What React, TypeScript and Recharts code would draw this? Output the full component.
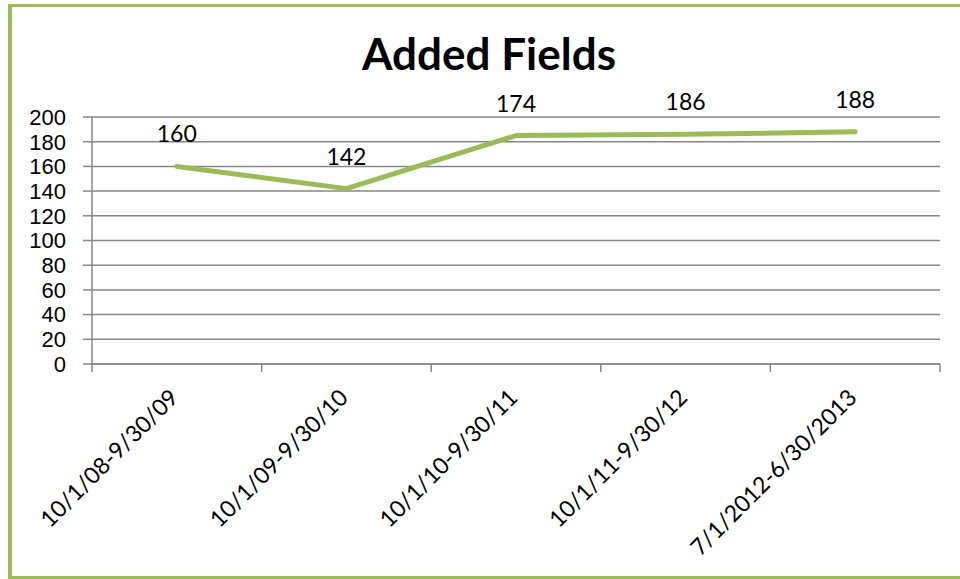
import { LineChart, Line, XAxis, YAxis, CartesianGrid, LabelList } from 'recharts';

const periods = ['10/1/08-9/30/09', '10/1/09-9/30/10', '10/1/10-9/30/11', '10/1/11-9/30/12', '7/1/2012-6/30/2013'];
const addedFields = [160, 142, 185, 186, 188];
const pointLabels = ['160', '142', '174', '186', '188'];
const yTicks = [0, 20, 40, 60, 80, 100, 120, 140, 160, 180, 200];

const GREEN = '#9BBB59';
const GRID = '#878787';

// points sit in the middle of each category band, band edges carry the tick marks
const chartData = periods.map((p, i) => ({
  pos: i + 0.5,
  period: p,
  value: addedFields[i],
  label: pointLabels[i],
}));
const xTicks = [...periods.map((_, i) => i), periods.length, ...periods.map((_, i) => i + 0.5)].sort((a, b) => a - b);

const XTick = (props: any) => {
  const { x, y, payload } = props;
  const v = payload.value as number;
  if (Number.isInteger(v)) {
    return <line x1={x} y1={y} x2={x} y2={y + 8} stroke={GRID} strokeWidth={1.5} />;
  }
  const name = periods[Math.floor(v)];
  return (
    <g transform={`translate(${x + 3},${y + 35})`}>
      <text
        x={0}
        y={0}
        textAnchor="end"
        transform="rotate(-45)"
        fontFamily="Lato, 'Open Sans', sans-serif"
        fontSize={23}
        fill="#000"
      >
        {name}
      </text>
    </g>
  );
};

export default function App() {
  return (
    <div style={{ position: 'relative', width: 960, height: 579, overflow: 'hidden', background: '#fff' }}>
      <style>{`body{margin:0}`}</style>
      <div
        style={{
          position: 'absolute',
          left: 8,
          top: 4,
          width: 1100,
          height: 575,
          boxSizing: 'border-box',
          borderTop: `3px solid ${GREEN}`,
          borderBottom: `3px solid ${GREEN}`,
          borderLeft: `4px solid ${GREEN}`,
        }}
      />
      <svg width={960} height={100} style={{ position: 'absolute', left: 0, top: 0 }}>
        <text
          x={489}
          y={70}
          textAnchor="middle"
          fontFamily="Lato, 'Open Sans', sans-serif"
          fontWeight="bold"
          fontSize={44}
          fill="#000"
        >
          Added Fields
        </text>
      </svg>
      <div style={{ position: 'absolute', left: 0, top: 0 }}>
        <LineChart width={960} height={579} data={chartData} margin={{ top: 117, right: 20, bottom: 85, left: 12 }}>
          <CartesianGrid vertical={false} stroke={GRID} strokeWidth={1.5} />
          <XAxis
            dataKey="pos"
            type="number"
            domain={[0, periods.length]}
            ticks={xTicks}
            interval={0}
            height={130}
            tickSize={0}
            tickMargin={0}
            axisLine={{ stroke: GRID, strokeWidth: 1.5 }}
            tickLine={false}
            tick={<XTick />}
          />
          <YAxis
            domain={[0, 200]}
            ticks={yTicks}
            interval={0}
            width={80}
            tickSize={9}
            tickMargin={17}
            axisLine={{ stroke: GRID, strokeWidth: 1.5 }}
            tickLine={{ stroke: GRID, strokeWidth: 1.5 }}
            tick={{ fill: '#000', fontSize: 22, fontFamily: "'Liberation Sans', Arial, sans-serif" }}
          />
          <Line
            type="linear"
            dataKey="value"
            stroke={GREEN}
            strokeWidth={5}
            strokeLinecap="round"
            strokeLinejoin="round"
            dot={false}
            activeDot={false}
            isAnimationActive={false}
          >
            <LabelList
              dataKey="label"
              position="top"
              offset={24}
              fill="#000"
              fontSize={23}
              fontFamily="Lato, 'Open Sans', sans-serif"
            />
          </Line>
        </LineChart>
      </div>
    </div>
  );
}
